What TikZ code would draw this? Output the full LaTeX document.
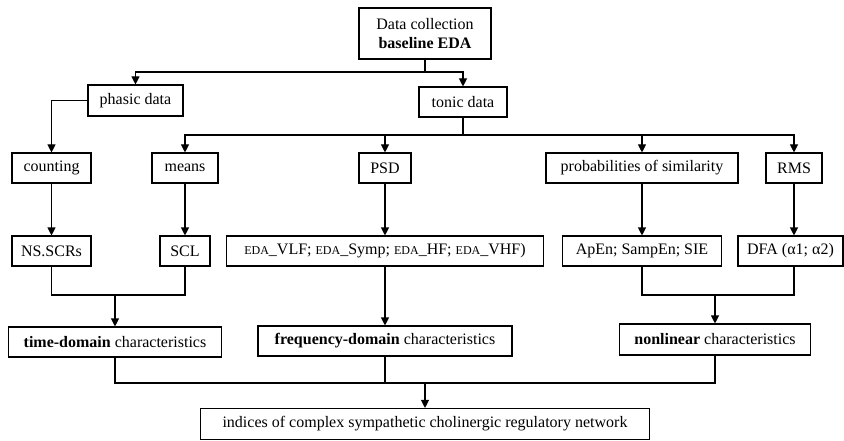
\documentclass[tikz,border=0pt]{standalone}
\usepackage{fontspec}
\setmainfont{Liberation Serif}
\usetikzlibrary{arrows.meta}
\newcommand{\edasm}{{\fontsize{12}{12}\selectfont EDA}}
\begin{document}
\begin{tikzpicture}[x=1pt,y=-1pt,
  box/.style={draw,line width=1.1pt,inner sep=0pt,font=\fontsize{16}{19}\selectfont},
  link/.style={line width=1.1pt},
  arr/.style={link,-{Triangle[length=8pt,width=8pt]}}]
\useasboundingbox (0,0) rectangle (844,441);

% boxes
\node[box,minimum width=132,minimum height=51,align=center] (dc) at (425,33.5) {Data collection\\\textbf{baseline EDA}};
\node[box,minimum width=95,minimum height=31] (phasic) at (135.5,100.5) {phasic data};
\node[box,minimum width=88,minimum height=30] (tonic) at (463,102) {tonic data};

\node[box,minimum width=79,minimum height=30] (counting) at (51.5,168) {counting};
\node[box,minimum width=66,minimum height=30] (means) at (185,168) {means};
\node[box,minimum width=52,minimum height=30] (psd) at (385,168) {PSD};
\node[box,minimum width=192,minimum height=30] (prob) at (642,168) {probabilities of similarity};
\node[box,minimum width=56,minimum height=30] (rms) at (794,168) {RMS};

\node[box,minimum width=79,minimum height=30] (ns) at (51.5,251) {NS.SCRs};
\node[box,minimum width=50,minimum height=30] (scl) at (185,251) {SCL};
\node[box,minimum width=317,minimum height=30] (eda) at (385,251) {\edasm\_VLF; \edasm\_Symp; \edasm\_HF; \edasm\_VHF)};
\node[box,minimum width=159,minimum height=30] (apen) at (642,251) {ApEn; SampEn; SIE};
\node[box,minimum width=105,minimum height=30] (dfa) at (790.5,251) {DFA (α1; α2)};

\node[box,minimum width=213,minimum height=30] (time) at (115,342) {\textbf{time-domain} characteristics};
\node[box,minimum width=254,minimum height=30] (freq) at (385,341) {\textbf{frequency-domain} characteristics};
\node[box,minimum width=191,minimum height=31] (nonlin) at (715,339.5) {\textbf{nonlinear} characteristics};

\node[box,minimum width=449,minimum height=31] (idx) at (425,424) {indices of complex sympathetic cholinergic regulatory network};

% junction points
\coordinate (j1) at (425,72);
\coordinate (j2) at (463,135);
\coordinate (j3) at (115,295);
\coordinate (j4) at (715,295);
\coordinate (j5) at (425,383);

% top split
\draw[link] (dc.south) -- (j1);
\draw[arr] (j1) -| (phasic.north);
\draw[arr] (j1) -| (tonic.north);
\draw[arr] (phasic.west) -| (counting.north);

% tonic branches
\draw[link] (tonic.south) -- (j2);
\draw[arr] (j2) -| (means.north);
\draw[arr] (j2) -| (psd.north);
\draw[arr] (j2) -| (prob.north);
\draw[arr] (j2) -| (rms.north);

% methods to measures
\draw[arr] (counting.south) -- (ns.north);
\draw[arr] (means.south) -- (scl.north);
\draw[arr] (psd.south) -- (eda.north);
\draw[arr] (prob.south) -- (apen.north);
\draw[arr] (rms.south) -- (rms.south |- dfa.north);

% measures to characteristics
\draw[link] (ns.south) |- (j3) -| (scl.south);
\draw[arr] (j3) -- (time.north);
\draw[arr] (eda.south) -- (freq.north);
\draw[link] (apen.south) |- (j4) -| (dfa.south -| rms.south);
\draw[arr] (j4) -- (nonlin.north);

% characteristics to indices
\draw[link] (time.south) |- (j5);
\draw[link] (freq.south) |- (j5);
\draw[link] (nonlin.south) |- (j5);
\draw[arr] (j5) -- (idx.north);
\end{tikzpicture}
\end{document}
